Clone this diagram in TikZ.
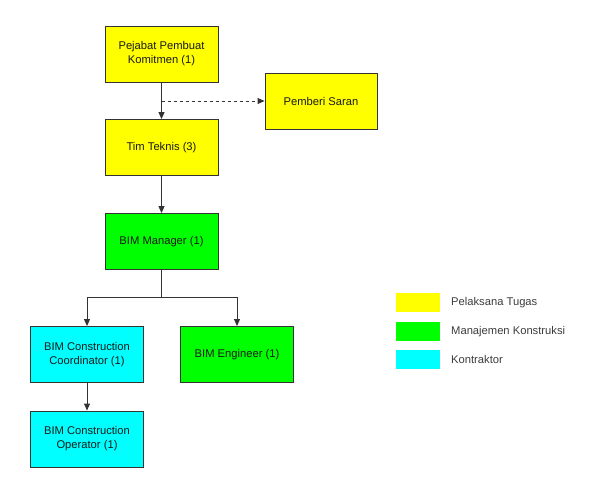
\documentclass[tikz,border=0pt]{standalone}
\usepackage{fontspec}
\setmainfont{Liberation Sans}
\usetikzlibrary{arrows.meta}

\definecolor{tugas}{HTML}{FFFF00}
\definecolor{mk}{HTML}{00FF00}
\definecolor{kontr}{HTML}{00FFFF}
\definecolor{garis}{HTML}{333333}
\definecolor{teks}{HTML}{1A1A1A}

\tikzset{
  kotak/.style={draw=garis, line width=0.9pt, minimum width=113pt, minimum height=56pt,
    align=center, inner sep=2pt, text=teks, font=\fontsize{11.2}{14}\selectfont},
  swatch/.style={minimum width=44pt, minimum height=19pt, inner sep=0pt},
  ket/.style={anchor=west, text=teks!85, inner sep=0pt, font=\fontsize{11.2}{13}\selectfont},
  panah/.style={draw=garis, line width=0.9pt, -{Triangle[length=7pt,width=6pt]}},
}

\begin{document}
\begin{tikzpicture}[x=1pt, y=-1pt]
\useasboundingbox (0,0) rectangle (594,483);

% struktur organisasi
\node[kotak, fill=tugas] (ppk) at (161.5,54) {Pejabat Pembuat\\Komitmen (1)};
\node[kotak, fill=tugas, minimum width=112pt] (saran) at (321,101) {Pemberi Saran};
\node[kotak, fill=tugas] (tim) at (161.5,147.5) {Tim Teknis (3)};
\node[kotak, fill=mk] (bimm) at (161.5,241.5) {BIM Manager (1)};
\node[kotak, fill=kontr] (coord) at (87,354.5) {BIM Construction\\Coordinator (1)};
\node[kotak, fill=mk] (eng) at (237,354.5) {BIM Engineer (1)};
\node[kotak, fill=kontr] (oper) at (87,439) {BIM Construction\\Operator (1)};

\coordinate (cab) at (161.5,297);

\draw[panah] (ppk) -- (tim);
\draw[panah, dashed] (ppk.south |- saran.west) -- (saran.west);
\draw[panah] (tim) -- (bimm);
\draw[panah] (bimm.south) -- (cab) -| (coord.north);
\draw[panah] (cab) -| (eng.north);
\draw[panah] (coord) -- (oper);

% keterangan
\node[swatch, fill=tugas] (k1) at (418,302.5) {};
\node[swatch, fill=mk] (k2) at (418,331.5) {};
\node[swatch, fill=kontr] (k3) at (418,359.5) {};
\node[ket] (t1) at (451,302.5) {Pelaksana Tugas};
\node[ket] (t2) at (451,331.5) {Manajemen Konstruksi};
\node[ket] (t3) at (451,359.5) {Kontraktor};

\end{tikzpicture}
\end{document}
